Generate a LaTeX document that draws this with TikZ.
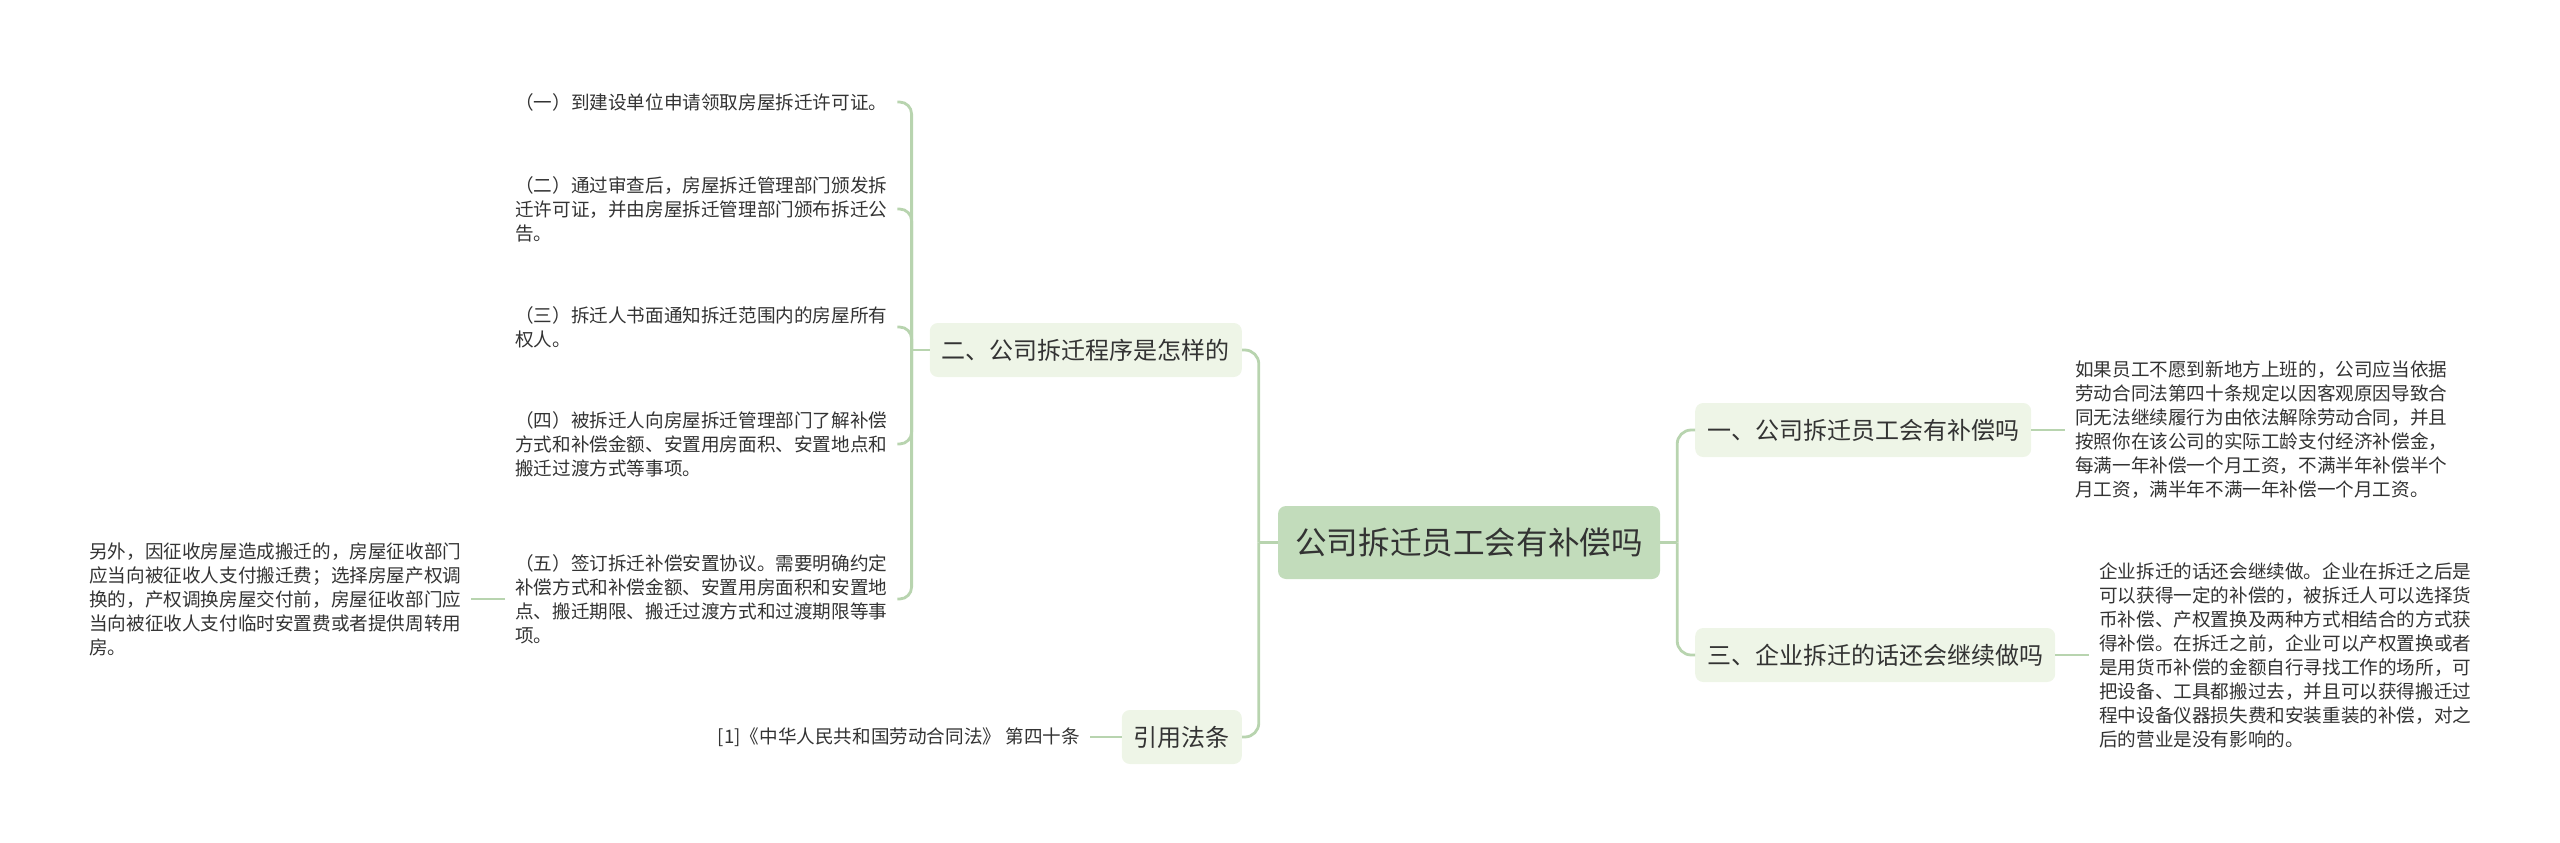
\documentclass[tikz,border=0pt]{standalone}
\usepackage{fontspec}
\newfontfamily\cjk{Noto Sans CJK SC}
\usetikzlibrary{calc}
\definecolor{linec}{HTML}{B8D4AF}
\definecolor{rootc}{HTML}{C2DCBB}
\definecolor{branchc}{HTML}{EEF5E7}
\definecolor{txt}{HTML}{333333}
\tikzset{
  conn/.style={draw=linec, line width=2.8pt},
  rootbox/.style={fill=rootc, rounded corners=8pt, minimum width=382pt, minimum height=73pt, inner sep=0pt, font=\cjk\fontsize{31.6}{36}\selectfont, text=txt},
  branchbox/.style={fill=branchc, rounded corners=8pt, minimum height=54pt, inner xsep=12pt, inner ysep=0pt, font=\cjk\fontsize{24}{28}\selectfont, text=txt},
  leaf/.style={inner sep=0pt, align=left, text width=372pt, font=\cjk\fontsize{18.6}{24}\selectfont, text=txt},
  leafone/.style={inner sep=0pt, font=\cjk\fontsize{18.6}{24}\selectfont, text=txt},
}
\begin{document}
\begin{tikzpicture}[x=1pt,y=-1pt]
\useasboundingbox (0,0) rectangle (2560,843);
% nodes
\node[rootbox] (root) at (1469,542.5) {公司拆迁员工会有补偿吗};
\node[branchbox, anchor=east] (b2) at (1242,350) {二、公司拆迁程序是怎样的};
\node[branchbox, anchor=east] (bc) at (1242,737) {引用法条};
\node[branchbox, anchor=west] (b1) at (1695,430) {一、公司拆迁员工会有补偿吗};
\node[branchbox, anchor=west] (b3) at (1695,655) {三、企业拆迁的话还会继续做吗};

\node[leaf, anchor=west] (l1) at (515,102) {（一）到建设单位申请领取房屋拆迁许可证。};
\node[leaf, anchor=west] (l2) at (515,209) {（二）通过审查后，房屋拆迁管理部门颁发拆\\迁许可证，并由房屋拆迁管理部门颁布拆迁公\\告。};
\node[leaf, anchor=west] (l3) at (515,327) {（三）拆迁人书面通知拆迁范围内的房屋所有\\权人。};
\node[leaf, anchor=west] (l4) at (515,444) {（四）被拆迁人向房屋拆迁管理部门了解补偿\\方式和补偿金额、安置用房面积、安置地点和\\搬迁过渡方式等事项。};
\node[leaf, anchor=west] (l5) at (515,599) {（五）签订拆迁补偿安置协议。需要明确约定\\补偿方式和补偿金额、安置用房面积和安置地\\点、搬迁期限、搬迁过渡方式和过渡期限等事\\项。};
\node[leaf, anchor=west] (l6) at (89,599) {另外，因征收房屋造成搬迁的，房屋征收部门\\应当向被征收人支付搬迁费；选择房屋产权调\\换的，产权调换房屋交付前，房屋征收部门应\\当向被征收人支付临时安置费或者提供周转用\\房。};
\node[leafone, anchor=east] (lc) at (1080,737) {[1]《中华人民共和国劳动合同法》 第四十条};
\node[leaf, anchor=west] (r1) at (2075,430) {如果员工不愿到新地方上班的，公司应当依据\\劳动合同法第四十条规定以因客观原因导致合\\同无法继续履行为由依法解除劳动合同，并且\\按照你在该公司的实际工龄支付经济补偿金，\\每满一年补偿一个月工资，不满半年补偿半个\\月工资，满半年不满一年补偿一个月工资。};
\node[leaf, anchor=west] (r3) at (2099,655) {企业拆迁的话还会继续做。企业在拆迁之后是\\可以获得一定的补偿的，被拆迁人可以选择货\\币补偿、产权置换及两种方式相结合的方式获\\得补偿。在拆迁之前，企业可以产权置换或者\\是用货币补偿的金额自行寻找工作的场所，可\\把设备、工具都搬过去，并且可以获得搬迁过\\程中设备仪器损失费和安装重装的补偿，对之\\后的营业是没有影响的。};

% junctions
\coordinate (jl) at ($(root.west)+(-19,0)$);
\coordinate (jr) at ($(root.east)+(17,0)$);
\coordinate (j2) at ($(b2.west)+(-18,0)$);

% connectors
\draw[conn] (root.west) -- (jl);
\draw[conn, rounded corners=14pt] (jl) |- (b2.east);
\draw[conn, rounded corners=14pt] (jl) |- (bc.east);
\draw[conn] (root.east) -- (jr);
\draw[conn, rounded corners=14pt] (jr) |- (b1.west);
\draw[conn, rounded corners=14pt] (jr) |- (b3.west);

\draw[conn] (b2.west) -- (j2);
\foreach \n in {l1,l2,l3,l4,l5}
  \draw[conn, rounded corners=12pt] (j2) |- ([xshift=10pt]\n.east);

\draw[conn] ([xshift=-10pt]l5.west) -- ([xshift=10pt]l6.east);
\draw[conn] (bc.west) -- ([xshift=10pt]lc.east);
\draw[conn] (b1.east) -- ([xshift=-10pt]r1.west);
\draw[conn] (b3.east) -- ([xshift=-10pt]r3.west);
\end{tikzpicture}
\end{document}
